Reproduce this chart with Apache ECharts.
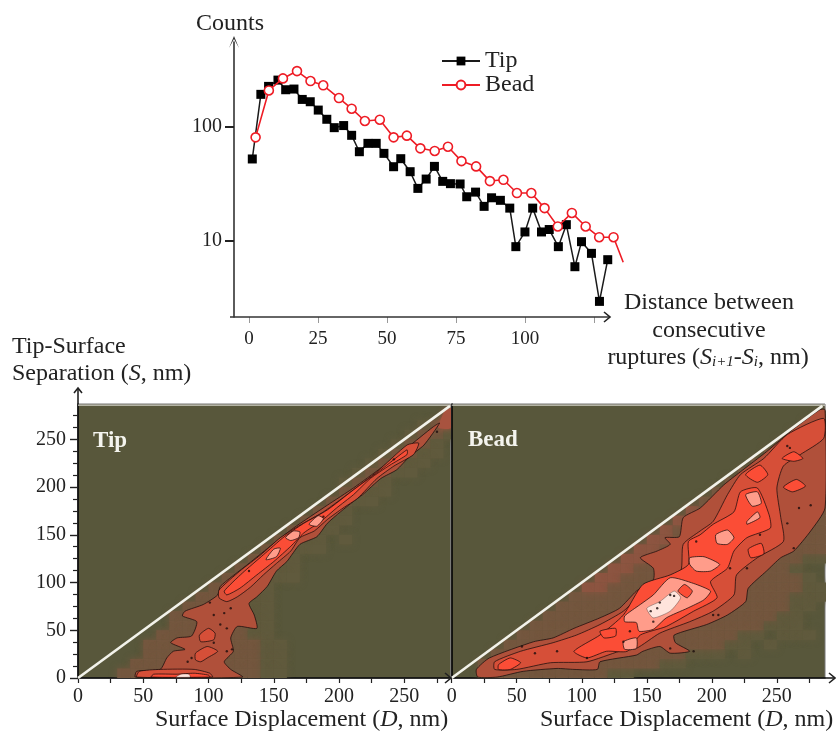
<!DOCTYPE html>
<html><head><meta charset="utf-8">
<style>html,body{margin:0;padding:0;background:#fff}#c{width:836px;height:732px}</style>
<script src="https://cdn.jsdelivr.net/npm/echarts@6/dist/echarts.min.js"></script>
</head><body><div id="c"></div>
<script>
// ---------- top chart: histogram of rupture distances ----------
const tipX = [1.2,4.3,7.1,10.5,13.3,16.3,19.3,22.2,25.1,28.2,30.9,34.3,37.2,40,43.1,46.1,48.9,52.4,55,58.4,61.2,64.2,67.2,70.2,73,76.5,78.9,82.1,85.2,87.9,91.1,94.5,96.7,100,102.8,106,108.8,112.1,115,118.1,120.5,124.1,127,130];
const tipCounts = [52.3,194,228,259,213,216,175,167,141,117,98.7,103,84.5,60.6,71.8,71.8,58.6,44.7,52.6,40.4,28.8,34.8,45,33.2,31.7,31.5,24.3,26.7,20,23.8,22.6,19.3,8.83,11.9,19.3,11.9,12.5,8.83,13.8,5.88,9.77,7.71,2.91,6.78];
const beadX = [2.4,7.2,12.3,17.4,22.3,26.9,32.6,37.2,42,47.4,52.4,57.2,62.1,67.3,72.1,77,82.3,87.3,92.2,97.1,102.3,107.1,111.9,117,122,126.9,132.1,135.6];
const beadCounts = [81.1,210,268,311,254,233,180,145,113,116,81.1,83.9,64.9,61.5,67.1,50.1,45,33.4,34.3,26.2,26.2,19.3,13.3,17.5,13.3,10.7,10.7,6.43];
const topXTicks = [0,25,50,75,100,125];
const topXLabels = [0,25,50,75,100];
const topYTicks = [10,100];

// ---------- bottom panels: tick values (nm) ----------
const majorTicks = [0,50,100,150,200,250];
const minorYTicks = [12.5,25,37.5,62.5,75,87.5,112.5,125,137.5,162.5,175,187.5,212.5,225,237.5,262.5,275];
const xTicks = [0,25,50,75,100,125,150,175,200,225,250,275];

// low-density bins, 10 nm square: [S bin, first D bin, levels along D]
const tipHalo = [[26,26,'122'],[25,25,'1221'],[24,24,'1221'],[23,23,'12211'],[22,22,'12211'],[21,21,'122110'],[20,20,'122100'],[19,20,'2211'],[18,19,'22110'],[17,18,'22100'],[16,17,'22110'],[15,16,'221100'],[14,15,'2211010'],[13,14,'221110'],[12,13,'22110'],[11,12,'2221100'],[10,11,'2221110'],[9,10,'22211'],[8,9,'222111'],[7,8,'2222111'],[6,7,'22222211'],[5,7,'22222211'],[4,6,'222222211'],[3,5,'22222222211'],[2,5,'22222222211'],[1,4,'222222222211'],[0,3,'2222222222211']];
const beadHalo = [[0,2,'122222222211'],[1,2,'2222222222222211'],[2,3,'22222222222222211101'],[3,4,'222222222222222221101'],[4,5,'22222222222222222110111'],[5,6,'2222222222222222221110'],[6,7,'222222222222222222110'],[7,8,'222222222222222222110'],[8,9,'22222222222222222111'],[9,10,'3322222222222222211'],[10,11,'33222222222222221'],[11,12,'332222222222221'],[12,13,'3322222222222211'],[13,14,'332222222222222'],[14,15,'33222222222222'],[15,16,'3222222222222'],[16,17,'322222222222'],[17,18,'32222222222'],[18,19,'2222222222'],[19,20,'222222222'],[20,21,'22222222'],[21,22,'2222222'],[22,23,'222222'],[23,24,'22222'],[24,25,'2222'],[25,26,'222'],[26,27,'22'],[27,28,'2']];

// density contours: [level, [[D,S],...]]
const tipContours = [
 [6,[[276,262],[286,262],[286,283],[281,280]]],
 [1,[[277,267],[265,244],[254,232],[244,218],[232,209],[218,192],[211,185],[201,174],[191,162],[183,148],[170,140],[160,122],[152,112],[145,96],[137,85],[131,78],[135,66],[137,52],[122,54],[117,42],[119,28],[112,17],[117,9],[126,1],[44,1],[45,7],[63,9],[68,21],[73,28],[82,30],[71,37],[76,42],[87,44],[91,59],[80,65],[82,70],[96,77],[107,87],[109,96],[130,119],[150,141],[165,157],[191,181],[211,199],[232,220],[252,241],[272,263]]],
 [2,[[108,92],[124,112],[140,129],[155,147],[170,160],[188,174],[209,195],[229,216],[252,244],[261,246],[257,234],[242,222],[229,209],[214,188],[203,178],[191,166],[181,154],[170,147],[163,133],[152,120],[142,108],[132,95],[122,85],[114,80],[108,84]]],
 [3,[[112,91],[126,110],[142,129],[158,148],[173,162],[191,176],[211,197],[232,218],[252,239],[252,234],[239,223],[224,209],[211,192],[198,178],[186,164],[173,152],[163,138],[150,122],[137,108],[124,94],[114,87]]],
 [4,[[159,147],[165,154],[170,153],[169,147],[163,144]]],
 [4,[[177,161],[184,170],[188,167],[183,159]]],
 [4,[[144,124],[150,135],[155,136],[152,127]]],
 [2,[[93,45],[100,52],[105,47],[104,40],[94,38]]],
 [2,[[90,26],[99,33],[107,28],[99,21],[94,17],[90,19]]],
 [2,[[45,1],[47,7],[63,9],[89,9],[101,5],[103,1]]],
 [3,[[56,1],[58,4],[76,4],[89,5],[100,3],[101,1]]],
 [5,[[75,1],[79,4],[85,4],[86,1]]]
];
const beadContours = [
 [1,[[19,9],[29,21],[63,38],[78,42],[94,52],[114,63],[129,73],[142,91],[155,103],[155,115],[145,126],[158,133],[168,140],[164,147],[175,148],[178,168],[191,178],[209,202],[222,216],[242,237],[262,260],[283,281],[287,281],[287,178],[276,154],[263,133],[253,126],[242,112],[228,94],[226,80],[212,66],[196,56],[171,45],[172,37],[183,28],[168,26],[160,33],[147,28],[142,24],[114,17],[112,9],[94,9],[81,10],[55,7],[35,1],[20,1]]],
 [2,[[33,17],[53,28],[78,37],[96,45],[114,56],[132,70],[145,87],[160,101],[176,112],[178,140],[191,154],[201,164],[212,192],[222,213],[240,230],[258,255],[286,272],[286,251],[268,234],[255,222],[250,199],[253,168],[255,143],[235,126],[219,108],[217,87],[201,70],[183,59],[160,47],[142,31],[129,28],[104,17],[76,16],[50,9],[33,9]]],
 [3,[[94,28],[114,45],[132,66],[147,98],[168,108],[182,119],[182,143],[191,150],[201,161],[217,174],[222,195],[235,199],[244,171],[245,157],[227,147],[217,133],[212,115],[199,101],[204,84],[186,70],[165,54],[145,45],[135,28],[119,28],[104,21]]],
 [3,[[226,213],[237,223],[243,213],[235,205]]],
 [3,[[254,230],[263,237],[270,230],[263,227]]],
 [3,[[36,14],[45,21],[53,16],[45,9],[36,9]]],
 [3,[[255,200],[265,208],[272,201],[262,195]]],
 [3,[[228,135],[238,141],[240,130],[230,126]]],
 [4,[[133,65],[145,77],[155,87],[168,105],[186,99],[199,91],[194,82],[181,73],[165,63],[155,51],[144,49],[142,58],[133,59]]],
 [3,[[174,91],[179,98],[185,91],[181,84]]],
 [4,[[183,126],[194,127],[206,119],[199,112],[188,112],[183,119]]],
 [4,[[203,150],[212,155],[217,147],[212,140],[204,141]]],
 [4,[[227,164],[235,174],[237,168],[227,161]]],
 [4,[[226,192],[235,195],[238,183],[231,180]]],
 [4,[[132,38],[142,42],[142,31],[133,30]]],
 [3,[[114,49],[126,52],[126,44],[117,42]]],
 [5,[[150,73],[160,80],[171,91],[176,84],[168,70],[155,63]]]
];
// small closed contour specks seen inside the maps
const tipSpecks = [[104,66],[112,68],[109,56],[114,52],[104,37],[114,28],[84,17],[87,21],[118,30],[101,79],[117,73],[188,169],[242,229],[275,258],[131,112]];
const beadSpecks = [[258,243],[260,241],[258,162],[267,178],[276,181],[237,150],[263,136],[214,115],[227,115],[188,143],[160,79],[168,87],[153,70],[158,73],[171,86],[155,59],[201,66],[205,66],[54,33],[64,26],[81,28],[104,21],[137,49],[132,38],[168,31],[186,28]];
const diagonal = [[0,0],[285,285]];

const SERIF = '"Liberation Serif","Times New Roman",serif';
const ARROW = 'path://M0,12 L5,0 L10,12 L5,3 Z';
const haloColors = ['#58573b','#605a3d','#74573f','#8c5541'];
const levelColors = ['','#b0503a','#d64f38','#fb4d36','#ff9c8a','#ffe4dc','#a8533f'];
const TEXT = '#222';

function cellSeries(rows, idx){
  const data=[];
  rows.forEach(([j,i0,s])=>{[...s].forEach((c,k)=>{ if(c!=='0') data.push([(i0+k)*10,j*10,+c]); });});
  return {type:'custom',coordinateSystem:'cartesian2d',xAxisIndex:idx.x,yAxisIndex:idx.y,clip:true,silent:true,z:2,
    data,renderItem(p,api){
      const a=api.coord([api.value(0),api.value(1)+10]),b=api.coord([api.value(0)+10,api.value(1)]);
      const col=haloColors[api.value(2)];
      return {type:'rect',shape:{x:a[0],y:a[1],width:b[0]-a[0],height:b[1]-a[1]},style:{fill:col,shadowBlur:7,shadowColor:col}};
    }};
}
function contourSeries(list, idx){
  return {type:'custom',coordinateSystem:'cartesian2d',xAxisIndex:idx.x,yAxisIndex:idx.y,clip:true,silent:true,z:3,
    data:list.map(c=>[c[1][0][0],c[1][0][1],c[0]]),
    renderItem(p,api){
      const c=list[p.dataIndex], lv=c[0];
      return {type:'polygon',shape:{points:c[1].map(q=>api.coord(q)),smooth:0.2},
        style:lv===6?{fill:levelColors[6],shadowBlur:6,shadowColor:levelColors[6]}:
          {fill:levelColors[lv],stroke:'rgba(20,10,10,0.8)',lineWidth:lv===5?0.4:0.9}};
    }};
}
function speckSeries(data,idx){
  return {type:'scatter',xAxisIndex:idx.x,yAxisIndex:idx.y,data,symbol:'circle',symbolSize:2.4,silent:true,
    itemStyle:{color:'#1a0c0c'},z:4};
}
function lineSeries(data,idx,color,width){
  return {type:'line',xAxisIndex:idx.x,yAxisIndex:idx.y,data,showSymbol:false,symbol:'none',silent:true,clip:false,z:5,
    lineStyle:{color,width},animation:false};
}
const L={x:1,y:1}, R={x:2,y:3};
function xAxisBottom(gridIndex,max){
  return {type:'value',gridIndex,min:0,max,position:'bottom',splitLine:{show:false},
    axisLine:{show:true,lineStyle:{color:'#000',width:1.6},onZero:false},
    axisTick:{show:true,customValues:xTicks,length:5,lineStyle:{color:'#222',width:1.2}},
    axisLabel:{customValues:majorTicks,color:TEXT,fontFamily:SERIF,fontSize:20,margin:9}};
}
function axisStroke(pts,color){
  return {type:'polyline',z:10,silent:true,shape:{points:pts},style:{stroke:color,lineWidth:1.6,fill:null}};
}
function t(text,x,y,align){
  return {type:'text',x,y,z:20,style:{text,fill:TEXT,font:'24px '+SERIF,align:align||'left',verticalAlign:'middle',
    rich:{i:{font:'italic 24px '+SERIF,fill:TEXT},s:{font:'italic 15px '+SERIF,fill:TEXT,verticalAlign:'bottom',padding:[8,0,0,0]}}}};
}
const option={
  animation:false,backgroundColor:'#fff',
  grid:[
    {left:234,top:42,width:390.3,height:275},
    {left:78,top:404,width:372.7,height:274,show:true,backgroundColor:haloColors[0],borderColor:'#777',borderWidth:1},
    {left:451.7,top:404,width:373.3,height:274,show:true,backgroundColor:haloColors[0],borderColor:'#777',borderWidth:1}
  ],
  xAxis:[
    {type:'value',gridIndex:0,min:-5.43,max:136,splitLine:{show:false},
     axisLine:{show:false,onZero:false},
     axisTick:{show:true,customValues:topXTicks,length:6,lineStyle:{color:'#999',width:1}},
     axisLabel:{customValues:topXLabels,color:TEXT,fontFamily:SERIF,fontSize:19,margin:13}},
    xAxisBottom(1,285.5),xAxisBottom(2,287)
  ],
  yAxis:[
    {type:'log',gridIndex:0,logBase:10,min:2.12,max:561,splitLine:{show:false},
     axisLine:{show:true,symbol:['none',ARROW],symbolSize:[10,12],lineStyle:{color:'#333',width:1.6},onZero:false},
     axisTick:{show:true,customValues:topYTicks,length:9,lineStyle:{color:'#222',width:2}},
     axisLabel:{customValues:topYTicks,color:TEXT,fontFamily:SERIF,fontSize:20,margin:12}},
    {type:'value',gridIndex:1,min:0,max:287,splitLine:{show:false},
     axisLine:{show:true,lineStyle:{color:'#000',width:1.6},onZero:false},
     axisTick:{show:true,customValues:majorTicks,length:8,lineStyle:{color:'#222',width:1.4}},
     axisLabel:{customValues:majorTicks,color:TEXT,fontFamily:SERIF,fontSize:20,margin:12}},
    {type:'value',gridIndex:1,min:0,max:287,position:'left',splitLine:{show:false},
     axisLine:{show:false},axisLabel:{show:false},
     axisTick:{show:true,customValues:minorYTicks,length:5,lineStyle:{color:'#222',width:1.2}}},
    {type:'value',gridIndex:2,min:0,max:287,splitLine:{show:false},
     axisLine:{show:true,lineStyle:{color:'#000',width:1.6},onZero:false},
     axisTick:{show:false},axisLabel:{show:false}}
  ],
  legend:{data:['Tip','Bead'],orient:'vertical',left:436,top:44,itemWidth:38,itemHeight:11,itemGap:0,
    textStyle:{fontFamily:SERIF,fontSize:24,color:TEXT,lineHeight:23}},
  series:[
    {name:'Tip',type:'line',xAxisIndex:0,yAxisIndex:0,data:tipX.map((x,i)=>[x,tipCounts[i]]),symbol:'rect',symbolSize:9,
     lineStyle:{color:'#1a1a1a',width:1.5},itemStyle:{color:'#000'},z:3},
    {name:'Bead',type:'line',xAxisIndex:0,yAxisIndex:0,
     data:beadX.map((x,i)=>({value:[x,beadCounts[i]],symbol:i===beadX.length-1?'none':'circle'})),symbol:'circle',symbolSize:9,showSymbol:true,
     lineStyle:{color:'#ee1c25',width:1.6},itemStyle:{color:'#fff',borderColor:'#ee1c25',borderWidth:1.6},z:4},
    cellSeries(tipHalo,L),contourSeries(tipContours,L),speckSeries(tipSpecks,L),
    cellSeries(beadHalo,R),contourSeries(beadContours,R),speckSeries(beadSpecks,R),
    lineSeries(diagonal,L,'#f2f2ea',2.6),lineSeries(diagonal,R,'#f2f2ea',2.6),
    lineSeries([[0,285.8],[285.5,285.8]],L,'#e8e8e0',1),lineSeries([[0,285.8],[287,285.8]],R,'#e8e8e0',1)
  ],
  graphic:[
    // axis arrows that run past the plotted range
    axisStroke([[230,317],[610,317]],'#333'),axisStroke([[604,312],[610,317],[604,322]],'#222'),
    axisStroke([[78,404],[78,388]],'#222'),axisStroke([[74,393],[78,388],[82,393]],'#222'),
    axisStroke([[825,678],[835,678]],'#222'),axisStroke([[829,673],[835,678],[829,683]],'#222'),
    axisStroke([[445,673],[451,678],[445,683]],'#222'),
    t('Counts',196,24),
    t('Tip-Surface',12,347),
    t('Separation ({i|S}, nm)',12,374),
    t('Distance between',709,303,'center'),
    t('consecutive',709,331,'center'),
    t('ruptures ({i|S}{s|i+1}-{i|S}{s|i}, nm)',708,358,'center'),
    t('Surface Displacement ({i|D}, nm)',155,720),
    t('Surface Displacement ({i|D}, nm)',540,720),
    {type:'text',x:93,y:441,z:20,style:{text:'Tip',fill:'#f4f4ee',font:'bold 23px '+SERIF,verticalAlign:'middle'}},
    {type:'text',x:468,y:440,z:20,style:{text:'Bead',fill:'#f4f4ee',font:'bold 23px '+SERIF,verticalAlign:'middle'}}
  ]
};
echarts.init(document.getElementById('c'),null,{renderer:'canvas'}).setOption(option);
</script></body></html>
